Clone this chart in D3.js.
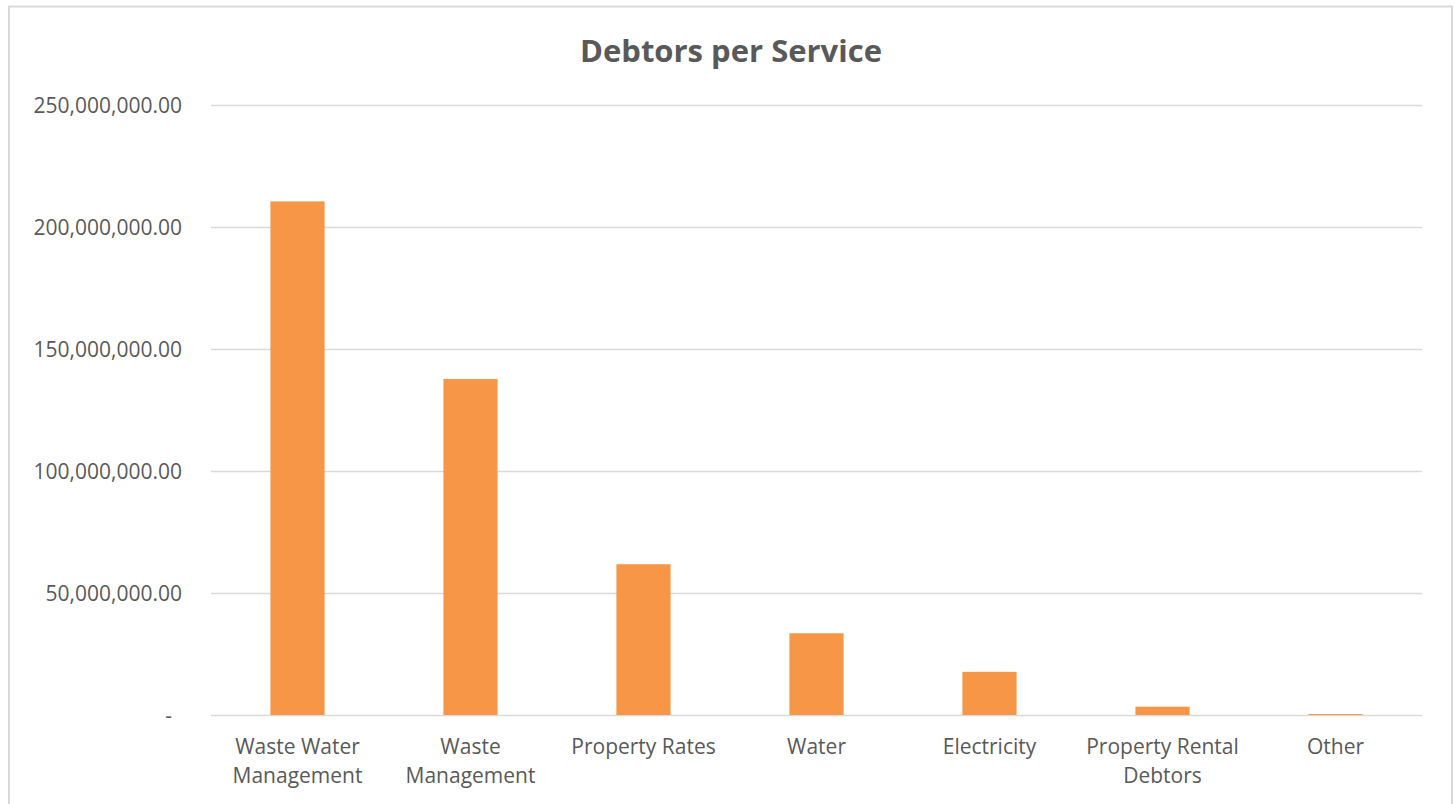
<!DOCTYPE html>
<html>
<head>
<meta charset="utf-8">
<script src="https://cdn.jsdelivr.net/npm/d3@7"></script>
<style>
  body { margin: 0; background: #ffffff; }
  text { font-family: "Open Sans", sans-serif; fill: #595959; }
</style>
</head>
<body>
<script>
// Chart data
const categories = ["Waste Water Management", "Waste Management", "Property Rates", "Water",
                    "Electricity", "Property Rental Debtors", "Other"];
const debtors = [210500000, 137700000, 61800000, 33500000, 17700000, 3400000, 400000];
const yTicks = [0, 50000000, 100000000, 150000000, 200000000, 250000000];
const chartTitle = "Debtors per Service";

// Layout
const width = 1455;
const height = 804;
const margin = {top: 105, right: 33, bottom: 89, left: 211};

const svg = d3.select('body')
  .append('svg')
  .attr('width', width)
  .attr('height', height);

// outer chart frame
svg.append('rect')
  .attr('x', 9).attr('y', 6.5)
  .attr('width', 1443).attr('height', 820)
  .attr('fill', 'none')
  .attr('stroke', '#d9d9d9')
  .attr('stroke-width', 2);

// Scales
const xScale = d3.scaleBand()
  .domain(categories)
  .range([margin.left, width - margin.right])
  .paddingInner(0.687)
  .paddingOuter(0.3435);

const yScale = d3.scaleLinear()
  .domain([0, 250000000])
  .range([height - margin.bottom, margin.top]);

// Gridlines
svg.append('g')
  .classed('grid', true)
  .selectAll('line')
  .data(yTicks)
  .join('line')
  .attr('x1', margin.left)
  .attr('x2', width - margin.right)
  .attr('y1', d => Math.round(yScale(d)) + 0.5)
  .attr('y2', d => Math.round(yScale(d)) + 0.5)
  .attr('stroke', '#d9d9d9')
  .attr('stroke-width', 1.5);

// Y axis labels (accounting style: zero shown as dash)
const fmt = d3.format(',.2f');
const yAxis = d3.axisLeft(yScale)
  .tickValues(yTicks)
  .tickSize(0)
  .tickPadding(0)
  .tickFormat(d => d === 0 ? '-' : fmt(d));

svg.append('g')
  .classed('axis y', true)
  .attr('transform', 'translate(182,0)')
  .call(yAxis)
  .call(g => g.select('.domain').remove())
  .call(g => g.selectAll('text')
    .attr('font-size', 21)
    .attr('font-family', '"Open Sans", sans-serif')
    .attr('fill', '#595959')
    .attr('dy', '0.35em')
    .attr('x', d => d === 0 ? -10 : 0));

// Bars
svg.append('g')
  .classed('bars', true)
  .selectAll('rect')
  .data(categories)
  .join('rect')
  .attr('x', d => xScale(d))
  .attr('width', xScale.bandwidth())
  .attr('y', (d, i) => yScale(debtors[i]))
  .attr('height', (d, i) => yScale(0) - yScale(debtors[i]))
  .attr('fill', '#f79646');

// X axis with wrapped labels
const xAxis = d3.axisBottom(xScale).tickSize(0).tickPadding(0);

svg.append('g')
  .classed('axis x', true)
  .attr('transform', 'translate(0,' + (height - margin.bottom) + ')')
  .call(xAxis)
  .call(g => g.select('.domain').remove())
  .call(g => g.selectAll('text')
    .attr('font-size', 21)
    .attr('font-family', '"Open Sans", sans-serif')
    .attr('fill', '#595959')
    .attr('dy', null)
    .attr('y', 39)
    .call(wrap, 160));

// Title
svg.append('text')
  .attr('x', 731)
  .attr('y', 62)
  .attr('text-anchor', 'middle')
  .attr('font-size', 31)
  .attr('font-weight', 'bold')
  .text(chartTitle);

function wrap(texts, maxWidth) {
  texts.each(function() {
    const text = d3.select(this);
    const words = text.text().split(/\s+/);
    const y = text.attr('y');
    text.text(null);
    let line = [];
    let lineNo = 0;
    let tspan = text.append('tspan').attr('x', 0).attr('y', y);
    words.forEach(word => {
      line.push(word);
      tspan.text(line.join(' '));
      if (tspan.node().getComputedTextLength() > maxWidth && line.length > 1) {
        line.pop();
        tspan.text(line.join(' '));
        line = [word];
        lineNo += 1;
        tspan = text.append('tspan').attr('x', 0).attr('y', +y + lineNo * 28.5).text(word);
      }
    });
  });
}
</script>
</body>
</html>
